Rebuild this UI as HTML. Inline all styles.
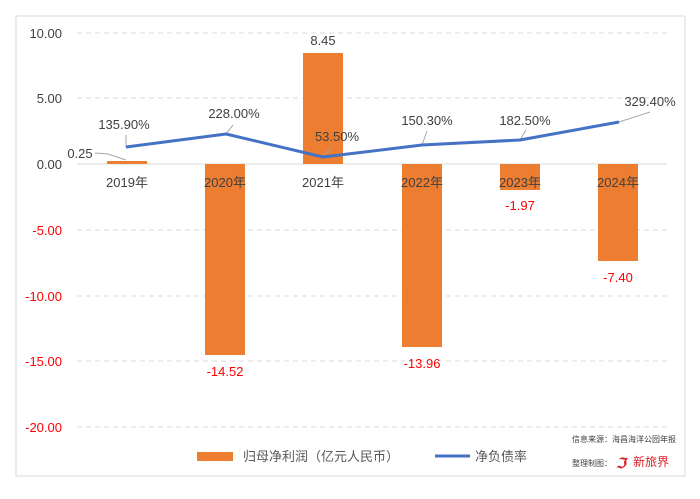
<!DOCTYPE html>
<html><head><meta charset="utf-8"><style>
body{margin:0;background:#fff;}
svg text{font-family:"Liberation Sans","Noto Sans CJK SC",sans-serif;}
</style></head><body>
<svg width="700" height="494" xmlns="http://www.w3.org/2000/svg">
<rect x="16" y="16" width="669" height="460" fill="#fff" stroke="#d9d9d9"/>
<g stroke="#d9d9d9" stroke-dasharray="5,4">
<line x1="77" y1="33" x2="667" y2="33"/>
<line x1="77" y1="98" x2="667" y2="98"/>
<line x1="77" y1="230" x2="667" y2="230"/>
<line x1="77" y1="296" x2="667" y2="296"/>
<line x1="77" y1="361" x2="667" y2="361"/>
<line x1="77" y1="427" x2="667" y2="427"/>
</g>
<line x1="77" y1="164" x2="667" y2="164" stroke="#d9d9d9"/>
<g font-size="13" fill="#404040" text-anchor="end">
<text x="62" y="38">10.00</text><text x="62" y="103">5.00</text><text x="62" y="169">0.00</text>
</g>
<g font-size="13" fill="#ff0000" text-anchor="end">
<text x="62" y="235">-5.00</text><text x="62" y="301">-10.00</text><text x="62" y="366">-15.00</text><text x="62" y="432">-20.00</text>
</g>
<g fill="#ed7d31">
<rect x="107" y="161" width="40" height="3"/>
<rect x="205" y="164" width="40" height="191"/>
<rect x="303" y="53" width="40" height="111"/>
<rect x="402" y="164" width="40" height="183"/>
<rect x="500" y="164" width="40" height="26"/>
<rect x="598" y="164" width="40" height="97"/>
</g>
<g font-size="13" fill="#404040" text-anchor="middle">
<text x="127" y="187">2019年</text><text x="225" y="187">2020年</text><text x="323" y="187">2021年</text>
<text x="422" y="187">2022年</text><text x="520" y="187">2023年</text><text x="618" y="187">2024年</text>
<text x="323" y="45">8.45</text>
<text x="80" y="158">0.25</text>
</g>
<polyline points="95,153 108,154 126,160" fill="none" stroke="#a6a6a6"/>
<g font-size="13" fill="#ff0000" text-anchor="middle">
<text x="225" y="376">-14.52</text><text x="422" y="368">-13.96</text><text x="520" y="210">-1.97</text><text x="618" y="282">-7.40</text>
</g>
<g stroke="#a6a6a6" fill="none">
<line x1="126" y1="147" x2="126" y2="135"/>
<line x1="226" y1="134" x2="233" y2="125"/>
<line x1="323" y1="157" x2="331" y2="147"/>
<line x1="422" y1="145" x2="427" y2="131"/>
<line x1="520" y1="140" x2="526" y2="130"/>
<line x1="619" y1="122" x2="650" y2="112"/>
</g>
<polyline points="126,147 226,134 323,157 422,145 520,140 619,122" fill="none" stroke="#4472c4" stroke-width="3" stroke-linejoin="round"/>
<g font-size="13" fill="#404040" text-anchor="middle">
<text x="124" y="129">135.90%</text><text x="234" y="118">228.00%</text><text x="337" y="141">53.50%</text>
<text x="427" y="125">150.30%</text><text x="525" y="125">182.50%</text><text x="650" y="106">329.40%</text>
</g>
<rect x="197" y="452" width="36" height="9" fill="#ed7d31"/>
<text x="243" y="461" font-size="13" fill="#595959">归母净利润（亿元人民币）</text>
<line x1="435" y1="456" x2="470" y2="456" stroke="#4472c4" stroke-width="3"/>
<text x="475" y="461" font-size="13" fill="#595959">净负债率</text>
<text x="572" y="442" font-size="8" fill="#404040">信息来源：海昌海洋公园年报</text>
<text x="572" y="466" font-size="8" fill="#404040">整理制图：</text>
<text x="616" y="468" font-size="14" font-weight="bold" fill="#d9222a" font-style="italic">ℑ</text>
<text x="633" y="466" font-size="12" fill="#d9222a">新旅界</text>
</svg>
</body></html>
